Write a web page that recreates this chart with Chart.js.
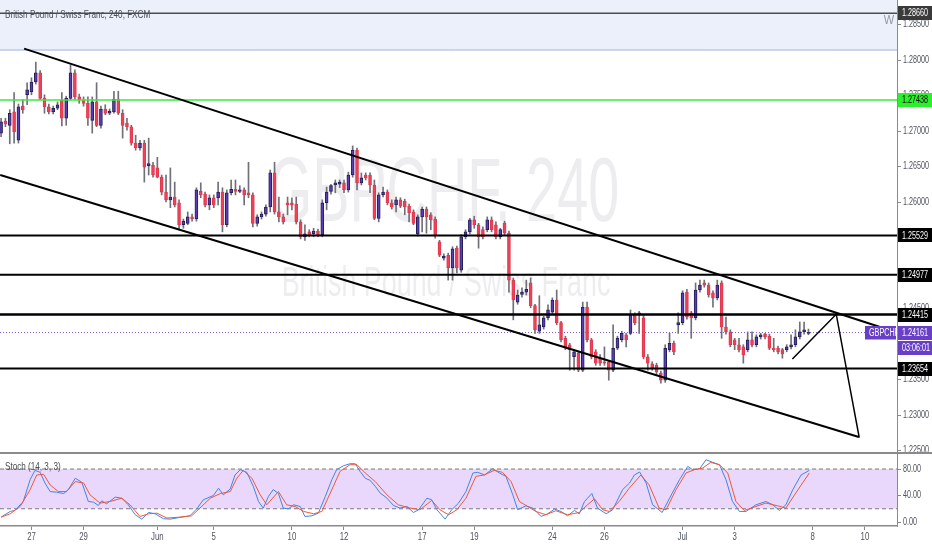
<!DOCTYPE html>
<html>
<head>
<meta charset="utf-8">
<title>GBPCHF 240</title>
<script src="https://cdn.jsdelivr.net/npm/chart.js@4.4.0/dist/chart.umd.min.js"></script>
<style>
  html, body { margin: 0; padding: 0; background: #fff; }
  #wrap { position: relative; width: 932px; height: 550px; overflow: hidden; background: #fff; }
  #priceChart { position: absolute; left: 0; top: 0; }
  #stochChart { position: absolute; left: 0; top: 452px; }
</style>
</head>
<body>
<div id="wrap">
  <canvas id="priceChart" width="932" height="452"></canvas>
  <canvas id="stochChart" width="932" height="98"></canvas>
</div>
<script>
// 4h candles, 24 May - 5 Jul
const opens = [
  1.2697,1.2714,1.2708,1.2727,1.2687,1.2735,1.2751,1.2755,1.2769,1.2782,
  1.2746,1.2734,1.2727,1.2732,1.2744,1.2718,1.2746,1.2782,1.2748,1.2744,
  1.2739,1.2715,1.2741,1.2708,1.2731,1.2725,1.2727,1.2745,1.2725,1.2711,
  1.2706,1.2683,1.2676,1.2683,1.2651,1.2652,1.2648,1.2635,1.2614,1.2603,
  1.2607,1.2599,1.2568,1.2570,1.2579,1.2576,1.2615,1.2611,1.2596,1.2606,
  1.2606,1.2614,1.2568,1.2613,1.2618,1.2615,1.2617,1.2613,1.2610,1.2570,
  1.2579,1.2583,1.2593,1.2641,1.2586,1.2579,1.2599,1.2599,1.2597,1.2572,
  1.2551,1.2558,1.2555,1.2559,1.2554,1.2599,1.2615,1.2624,1.2625,1.2627,
  1.2617,1.2638,1.2673,1.2627,1.2638,1.2638,1.2624,1.2577,1.2610,1.2614,
  1.2599,1.2596,1.2603,1.2601,1.2594,1.2586,1.2555,1.2579,1.2590,1.2582,
  1.2576,1.2544,1.2521,1.2525,1.2507,1.2535,1.2504,1.2551,1.2558,1.2575,
  1.2568,1.2561,1.2561,1.2575,1.2568,1.2551,1.2570,1.2556,1.2490,1.2459,
  1.2470,1.2473,1.2486,1.2454,1.2418,1.2424,1.2437,1.2445,1.2462,1.2430,
  1.2408,1.2399,1.2382,1.2387,1.2363,1.2452,1.2406,1.2389,1.2380,1.2375,
  1.2375,1.2363,1.2394,1.2406,1.2413,1.2415,1.2441,1.2441,1.2437,1.2382,
  1.2372,1.2370,1.2359,1.2349,1.2392,1.2401,1.2427,1.2430,1.2473,1.2444,
  1.2437,1.2476,1.2486,1.2483,1.2472,1.2465,1.2486,1.2424,1.2417,1.2406,
  1.2399,1.2396,1.2392,1.2406,1.2399,1.2410,1.2414,1.2411,1.2394,1.2394,
  1.2392,1.2392,1.2396,1.2399,1.2410,1.2417,1.2415
];
const highs = [
  1.2718,1.2718,1.2730,1.2754,1.2738,1.2744,1.2768,1.2775,1.2797,1.2785,
  1.2751,1.2738,1.2735,1.2741,1.2754,1.2749,1.2793,1.2786,1.2752,1.2748,
  1.2748,1.2748,1.2768,1.2735,1.2737,1.2731,1.2756,1.2756,1.2730,1.2718,
  1.2708,1.2694,1.2687,1.2687,1.2690,1.2656,1.2663,1.2638,1.2638,1.2648,
  1.2628,1.2603,1.2576,1.2586,1.2583,1.2620,1.2627,1.2614,1.2610,1.2610,
  1.2628,1.2620,1.2617,1.2631,1.2631,1.2623,1.2620,1.2656,1.2613,1.2582,
  1.2586,1.2596,1.2645,1.2656,1.2607,1.2583,1.2607,1.2606,1.2607,1.2575,
  1.2568,1.2561,1.2563,1.2562,1.2603,1.2621,1.2625,1.2631,1.2631,1.2631,
  1.2642,1.2679,1.2676,1.2641,1.2641,1.2641,1.2631,1.2613,1.2621,1.2617,
  1.2603,1.2607,1.2606,1.2604,1.2597,1.2589,1.2582,1.2593,1.2593,1.2585,
  1.2579,1.2546,1.2527,1.2528,1.2537,1.2538,1.2554,1.2561,1.2577,1.2580,
  1.2570,1.2565,1.2579,1.2579,1.2572,1.2563,1.2573,1.2559,1.2493,1.2476,
  1.2479,1.2490,1.2493,1.2456,1.2468,1.2439,1.2455,1.2465,1.2476,1.2432,
  1.2411,1.2401,1.2392,1.2390,1.2459,1.2459,1.2408,1.2392,1.2385,1.2396,
  1.2377,1.2427,1.2411,1.2418,1.2415,1.2448,1.2444,1.2446,1.2441,1.2385,
  1.2375,1.2373,1.2362,1.2399,1.2415,1.2404,1.2444,1.2475,1.2477,1.2446,
  1.2486,1.2490,1.2490,1.2486,1.2475,1.2490,1.2489,1.2438,1.2420,1.2408,
  1.2408,1.2399,1.2417,1.2417,1.2413,1.2415,1.2415,1.2414,1.2408,1.2397,
  1.2394,1.2399,1.2413,1.2420,1.2431,1.2431,1.2421
];
const lows = [
  1.2692,1.2706,1.2682,1.2683,1.2683,1.2725,1.2737,1.2751,1.2766,1.2744,
  1.2725,1.2724,1.2724,1.2730,1.2707,1.2708,1.2744,1.2745,1.2739,1.2735,
  1.2708,1.2697,1.2706,1.2704,1.2723,1.2723,1.2725,1.2723,1.2690,1.2701,
  1.2680,1.2673,1.2673,1.2628,1.2638,1.2635,1.2634,1.2610,1.2600,1.2592,
  1.2593,1.2561,1.2563,1.2568,1.2573,1.2573,1.2606,1.2593,1.2589,1.2592,
  1.2596,1.2558,1.2565,1.2610,1.2610,1.2613,1.2596,1.2606,1.2565,1.2566,
  1.2576,1.2580,1.2586,1.2583,1.2572,1.2569,1.2582,1.2589,1.2569,1.2548,
  1.2546,1.2551,1.2551,1.2551,1.2551,1.2589,1.2611,1.2613,1.2620,1.2613,
  1.2614,1.2635,1.2617,1.2624,1.2631,1.2613,1.2575,1.2572,1.2607,1.2596,
  1.2590,1.2586,1.2592,1.2582,1.2572,1.2568,1.2552,1.2558,1.2556,1.2561,
  1.2549,1.2523,1.2518,1.2490,1.2490,1.2500,1.2501,1.2548,1.2555,1.2563,
  1.2535,1.2548,1.2558,1.2558,1.2548,1.2548,1.2554,1.2473,1.2434,1.2456,
  1.2466,1.2469,1.2451,1.2415,1.2415,1.2421,1.2434,1.2442,1.2427,1.2403,
  1.2392,1.2363,1.2363,1.2361,1.2361,1.2403,1.2379,1.2370,1.2370,1.2370,
  1.2349,1.2361,1.2392,1.2403,1.2396,1.2413,1.2427,1.2415,1.2379,1.2363,
  1.2363,1.2358,1.2345,1.2346,1.2389,1.2385,1.2415,1.2427,1.2435,1.2408,
  1.2434,1.2473,1.2480,1.2466,1.2452,1.2462,1.2408,1.2414,1.2396,1.2392,
  1.2389,1.2373,1.2389,1.2396,1.2396,1.2407,1.2407,1.2392,1.2389,1.2386,
  1.2380,1.2389,1.2393,1.2396,1.2407,1.2414,1.2413
];
const closes = [
  1.2713,1.2710,1.2725,1.2699,1.2734,1.2730,1.2758,1.2769,1.2782,1.2746,
  1.2734,1.2727,1.2732,1.2737,1.2718,1.2746,1.2782,1.2748,1.2744,1.2739,
  1.2718,1.2741,1.2708,1.2731,1.2725,1.2728,1.2745,1.2725,1.2708,1.2706,
  1.2683,1.2676,1.2683,1.2649,1.2654,1.2638,1.2635,1.2614,1.2603,1.2607,
  1.2596,1.2568,1.2573,1.2579,1.2576,1.2617,1.2610,1.2596,1.2606,1.2596,
  1.2614,1.2568,1.2613,1.2618,1.2615,1.2617,1.2610,1.2610,1.2570,1.2579,
  1.2583,1.2593,1.2641,1.2586,1.2579,1.2572,1.2596,1.2596,1.2572,1.2551,
  1.2555,1.2554,1.2559,1.2554,1.2599,1.2614,1.2623,1.2627,1.2628,1.2617,
  1.2638,1.2673,1.2627,1.2634,1.2634,1.2624,1.2577,1.2610,1.2614,1.2599,
  1.2593,1.2603,1.2594,1.2593,1.2585,1.2570,1.2579,1.2590,1.2579,1.2575,
  1.2554,1.2525,1.2524,1.2507,1.2534,1.2507,1.2551,1.2558,1.2575,1.2568,
  1.2551,1.2551,1.2575,1.2561,1.2551,1.2561,1.2556,1.2490,1.2462,1.2469,
  1.2473,1.2477,1.2454,1.2420,1.2427,1.2437,1.2448,1.2462,1.2430,1.2406,
  1.2394,1.2392,1.2389,1.2363,1.2452,1.2406,1.2382,1.2373,1.2373,1.2373,
  1.2363,1.2394,1.2408,1.2415,1.2406,1.2441,1.2430,1.2444,1.2382,1.2373,
  1.2366,1.2361,1.2349,1.2394,1.2401,1.2389,1.2430,1.2472,1.2438,1.2437,
  1.2476,1.2483,1.2483,1.2469,1.2465,1.2483,1.2424,1.2417,1.2399,1.2399,
  1.2392,1.2385,1.2406,1.2399,1.2410,1.2413,1.2410,1.2394,1.2392,1.2389,
  1.2386,1.2396,1.2399,1.2410,1.2417,1.2420,1.24161
];

const priceTicks = [1.225, 1.230, 1.235, 1.240, 1.245, 1.250, 1.255, 1.260, 1.265, 1.270, 1.275, 1.280, 1.285];
const dateTickIdx = [7, 19, 36, 49, 67, 79, 97, 109, 127, 139, 157, 169, 187, 199];
const dateTickLabels = ['27', '29', 'Jun', '5', '10', '12', '17', '19', '24', '26', 'Jul', '3', '8', '10'];
const stochTicks = [0, 40, 80];

// Stoch (14, 3, 3) (x = bar index)
const kIdx = [
  0,2.1,3.2,5.1,6.7,7.8,9.0,10.1,11.3,12.8,14.4,15.5,17.1,18.6,20.1,21.3,22.4,23.2,24.3,26.3,
  27.8,29.3,30.9,32.4,34.0,35.5,37.4,39.0,41.2,43.5,45.1,46.6,48.9,50.1,51.2,52.8,53.9,55.1,56.6,58.1,
  59.3,60.4,61.6,62.7,63.9,65.0,66.2,67.4,68.9,70.0,71.6,73.1,74.7,76.2,77.3,78.9,80.4,81.6,82.7,83.9,
  85.0,86.2,87.3,88.9,90.4,91.9,93.5,95.0,96.2,98.1,99.2,100.4,102.3,103.8,105.4,107.1,108.7,109.8,111.4,113.3,
  114.8,116.3,117.9,119.0,120.9,122.5,124.4,125.9,127.5,129.0,130.5,132.1,133.2,134.4,136.1,137.4,139.4,140.9,143.2,144.8,
  145.9,147.1,148.6,150.1,152.3,154.0,156.3,158.2,159.3,160.9,162.4,164.0,165.5,167.0,168.5,170.1,171.6,173.9,176.2,177.8,
  179.3,180.8,182.4,184.3,186.2
];
const kVal = [
  7.4,16,17.5,31,64,78,75,59,46,45,43,49,66,60,31,30,25,32,27.5,37.6,
  36,26,11,4.4,14.4,12.4,5,4.4,7,9.4,20,33.6,40,51,41,50,71,79,75,54,
  31,21,38.6,49,43,21,20,26,23.5,8.4,9.4,13.4,38.6,64,79,85,88,88,76.5,66,
  63,54,44,36,25,21,23.5,14.4,18.5,36,33.6,18.5,4.4,18.5,28.6,46,74,75,71,80.5,
  74,69,41,18.5,24.5,21,8.4,12.4,19.5,16,9.4,17.5,12.4,31,43,21,12.4,18.5,49,59,
  71,75.5,59,26,14.4,36,64,84,79,80,94,90,86.5,64,31,16,16,26,31,26,
  17.5,26,49,71,78
];
const dIdx = [
  0,2.1,4.4,6.7,8.2,9.8,11.3,13.2,15.1,17.1,19.0,20.5,22.8,25.1,27.8,29.7,32.0,34.0,35.9,38.2,
  41.2,43.9,45.8,48.2,50.5,52.8,54.3,55.8,57.8,59.7,61.2,63.9,65.8,67.7,69.7,72.0,73.9,76.2,78.1,80.4,
  82.0,83.9,86.2,88.9,91.5,94.2,96.5,99.2,101.1,103.1,105.0,107.1,109.4,111.3,113.6,115.5,117.5,119.4,121.3,123.2,
  125.5,127.8,130.5,133.2,135.1,136.7,138.6,140.1,142.4,144.7,147.4,149.3,151.6,153.2,155.5,157.8,159.7,161.6,163.5,165.5,
  167.4,169.3,171.2,173.9,176.2,178.9,180.8,183.1,186.2
];
const dVal = [
  7.4,12.4,23.5,49,71,72,56,46,46,61,59,41,28.6,31,36,26,8.4,12.4,13.4,6,
  7.4,9.4,21,36,43,46,66,78,66,41,26,46,26,23.5,16,12.4,16,49,76.5,86.5,
  86.5,74,61,41,26,21,18.5,32.6,18.5,11,18.5,36,69,71,78,75,61,31,23.5,16,
  11,17,11,14.4,26,35,18.5,16,31,51,71,56,21,18.5,49,74,79,81.5,90,86.5,
  74,31,17.5,23.5,28.6,24.5,21,44,74
];

// drawings on the chart
const levelPrices = [1.28660, 1.27438, 1.25529, 1.24977, 1.24415, 1.23654];
const lastPrice = 1.24161;
const zoneBottom = 1.2814;
const upperChannel = [[5.3, 1.2816], [205.5, 1.2418]];
const lowerChannel = [[-0.2, 1.2638], [197.6, 1.2269]];
const projection = [[182.3, 1.2379], [192.4, 1.2442], [197.7, 1.2268]];

const X_MIN = -0.25, X_MAX = 206.4;
const Y_MIN = 1.224789, Y_MAX = 1.288451;
const FONT = '"Liberation Sans", Arial, sans-serif';
const AXIS_W = 35;

const levelStyles = [
  { line: '#4d4d4d', width: 1.5, box: '#3a3a3a', text: '#ffffff' },
  { line: '#3ee83e', width: 1.5, box: '#2cf02c', text: '#000000' },
  { line: '#000000', width: 2, box: '#000000', text: '#ffffff' },
  { line: '#000000', width: 2, box: '#000000', text: '#ffffff' },
  { line: '#000000', width: 2.5, box: '#000000', text: '#ffffff' },
  { line: '#000000', width: 2, box: '#000000', text: '#ffffff' }
];
const PURPLE = '#6a3fc8';

function narrowText(ctx, text, x, y, size, color, align, squeeze) {
  ctx.save();
  ctx.font = size + 'px ' + FONT;
  ctx.fillStyle = color;
  ctx.textBaseline = 'middle';
  ctx.textAlign = align;
  ctx.translate(x, y);
  ctx.scale(squeeze, 1);
  ctx.fillText(text, 0, 0);
  ctx.restore();
}

function tag(ctx, x0, x1, cy, text, bg, fg) {
  ctx.fillStyle = bg;
  ctx.fillRect(x0, Math.round(cy - 7), x1 - x0, 14);
  narrowText(ctx, text, x0 + 4, cy + 0.5, 10, fg, 'left', 0.72);
}

const pts = arr => arr.map(([x, y]) => ({ x, y }));
const flat = v => [{ x: X_MIN, y: v }, { x: X_MAX, y: v }];

const candleIdx = opens.map((_, i) => i);
const isUp = candleIdx.map(i => closes[i] >= opens[i]);

const watermarkPlugin = {
  id: 'watermark',
  beforeDatasetsDraw(chart) {
    const ctx = chart.ctx;
    narrowText(ctx, 'GBPCHF, 240', 444, 196, 90, 'rgba(140,143,155,0.16)', 'center', 0.62);
    narrowText(ctx, 'British Pound / Swiss Franc', 446, 284, 42, 'rgba(140,143,155,0.16)', 'center', 0.64);
  }
};

const priceAxisPlugin = {
  id: 'priceAxis',
  afterDraw(chart) {
    const { ctx, chartArea, scales: { y } } = chart;
    const r = chartArea.right;
    const w = chart.width;
    y.ticks.forEach(t => {
      narrowText(ctx, t.value.toFixed(5), r + 6, y.getPixelForValue(t.value), 10, '#50535e', 'left', 0.72);
    });
    levelPrices.forEach((p, i) => {
      tag(ctx, r + 1, w, y.getPixelForValue(p), p.toFixed(5), levelStyles[i].box, levelStyles[i].text);
    });
    const ly = y.getPixelForValue(lastPrice);
    tag(ctx, r + 1, w, ly + 15, '03:06:01', PURPLE, '#ffffff');
    ctx.fillStyle = '#ffffff';
    ctx.fillRect(r + 1, Math.round(ly + 7), w - r - 1, 1);
    tag(ctx, r + 1, w, ly, lastPrice.toFixed(5), PURPLE, '#ffffff');
    ctx.save();
    ctx.beginPath();
    ctx.rect(r - 32, ly - 7, 31, 14);
    ctx.clip();
    tag(ctx, r - 32, r - 1, ly, 'GBPCHF', PURPLE, '#ffffff');
    ctx.restore();
    narrowText(ctx, 'British Pound / Swiss Franc, 240, FXCM', 5, 15, 11, '#4c4f58', 'left', 0.74);
    narrowText(ctx, 'W', 889, 20, 13, '#9598a1', 'center', 0.85);
  }
};

new Chart(document.getElementById('priceChart'), {
  type: 'bar',
  data: {
    datasets: [
      {
        type: 'line', data: flat(zoneBottom), fill: 'end',
        backgroundColor: '#ebf0fa', borderColor: '#9fb4de', borderWidth: 1,
        pointRadius: 0, order: 10
      },
      {
        type: 'line', data: flat(lastPrice), borderColor: '#7c55d4', borderWidth: 1,
        borderDash: [1, 2], pointRadius: 0, order: 9
      },
      {
        type: 'bar', data: candleIdx.map(i => ({ x: i, y: [lows[i], highs[i]] })),
        backgroundColor: '#707078', borderWidth: 0, barThickness: 1, grouped: false, order: 8
      },
      {
        type: 'bar', data: candleIdx.map(i => ({ x: i, y: [opens[i], closes[i]] })),
        backgroundColor: isUp.map(u => u ? '#5b3db6' : '#ef4157'),
        borderColor: isUp.map(u => u ? '#231f55' : '#e0394e'),
        borderWidth: 1, borderSkipped: false, barThickness: 3, minBarLength: 1,
        grouped: false, order: 7
      },
      ...levelPrices.map((p, i) => ({
        type: 'line', data: flat(p), borderColor: levelStyles[i].line,
        borderWidth: levelStyles[i].width, pointRadius: 0, order: 5
      })),
      { type: 'line', data: pts(upperChannel), borderColor: '#000', borderWidth: 2, pointRadius: 0, order: 4 },
      { type: 'line', data: pts(lowerChannel), borderColor: '#000', borderWidth: 2, pointRadius: 0, order: 4 },
      { type: 'line', data: pts(projection), borderColor: '#000', borderWidth: 1.5, pointRadius: 0, order: 4 }
    ]
  },
  options: {
    responsive: false,
    animation: false,
    events: [],
    layout: { padding: 0 },
    plugins: { legend: { display: false }, tooltip: { enabled: false } },
    scales: {
      x: { type: 'linear', min: X_MIN, max: X_MAX, offset: false, display: false },
      y: {
        type: 'linear', position: 'right', min: Y_MIN, max: Y_MAX, beginAtZero: false,
        afterBuildTicks: s => { s.ticks = priceTicks.map(v => ({ value: v })); },
        afterFit: s => { s.width = AXIS_W; s.paddingTop = 0; s.paddingBottom = 0; },
        ticks: { display: false },
        grid: { drawOnChartArea: false, tickLength: 4, color: '#8a8a8a' },
        border: { color: '#8a8a8a', width: 1 }
      }
    }
  },
  plugins: [watermarkPlugin, priceAxisPlugin]
});

const stochAxisPlugin = {
  id: 'stochAxis',
  afterDraw(chart) {
    const { ctx, chartArea, scales: { x, y } } = chart;
    y.ticks.forEach(t => {
      narrowText(ctx, t.value.toFixed(2), chartArea.right + 6, y.getPixelForValue(t.value), 10, '#50535e', 'left', 0.72);
    });
    x.ticks.forEach((t, i) => {
      narrowText(ctx, dateTickLabels[i], x.getPixelForValue(t.value), chartArea.bottom + 11, 10, '#50535e', 'center', 0.78);
    });
    ctx.save();
    ctx.strokeStyle = '#8a8a8a';
    ctx.lineWidth = 2;
    ctx.beginPath();
    ctx.moveTo(0, 1);
    ctx.lineTo(chart.width, 1);
    ctx.stroke();
    ctx.restore();
    narrowText(ctx, 'Stoch (14, 3, 3)', 5, 15, 11, '#4c4f58', 'left', 0.74);
  }
};

new Chart(document.getElementById('stochChart'), {
  type: 'line',
  data: {
    datasets: [
      {
        data: flat(80), borderColor: '#7a7a7a', borderWidth: 1, borderDash: [4, 3],
        pointRadius: 0, fill: { value: 20 }, backgroundColor: '#e9d8fb', order: 3
      },
      {
        data: flat(20), borderColor: '#7a7a7a', borderWidth: 1, borderDash: [4, 3],
        pointRadius: 0, fill: false, order: 2
      },
      {
        data: kIdx.map((v, i) => ({ x: v, y: kVal[i] })), borderColor: '#3f86e8',
        borderWidth: 1, pointRadius: 0, fill: false, order: 1
      },
      {
        data: dIdx.map((v, i) => ({ x: v, y: dVal[i] })), borderColor: '#f0573c',
        borderWidth: 1, pointRadius: 0, fill: false, order: 0
      }
    ]
  },
  options: {
    responsive: false,
    animation: false,
    events: [],
    layout: { padding: 0 },
    plugins: {
      legend: { display: false }, tooltip: { enabled: false },
      filler: { drawTime: 'beforeDatasetsDraw' }
    },
    scales: {
      x: {
        type: 'linear', min: X_MIN, max: X_MAX, offset: false,
        afterBuildTicks: s => { s.ticks = dateTickIdx.map(v => ({ value: v })); },
        afterFit: s => { s.height = 24; s.paddingLeft = 0; s.paddingRight = 0; },
        ticks: { display: false },
        grid: { drawOnChartArea: false, tickLength: 4, color: '#8a8a8a' },
        border: { color: '#8a8a8a', width: 1.5 }
      },
      y: {
        type: 'linear', position: 'right', min: -6, max: 105.7,
        afterBuildTicks: s => { s.ticks = stochTicks.map(v => ({ value: v })); },
        afterFit: s => { s.width = AXIS_W; s.paddingTop = 0; s.paddingBottom = 0; },
        ticks: { display: false },
        grid: { drawOnChartArea: false, tickLength: 4, color: '#8a8a8a' },
        border: { color: '#8a8a8a', width: 1 }
      }
    }
  },
  plugins: [stochAxisPlugin]
});
</script>
</body>
</html>
